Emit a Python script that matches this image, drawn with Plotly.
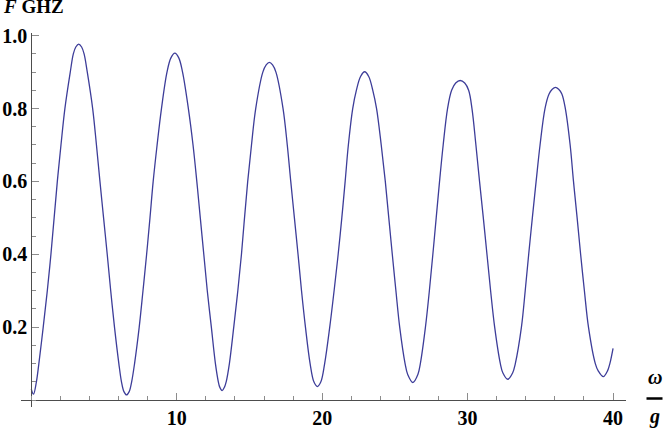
import plotly.graph_objects as go

# Data (omega/g vs F in GHZ)
omega_g = [
    0.00, 0.15, 0.35, 0.52, 0.82, 1.10, 1.35, 1.57, 1.79, 2.04, 2.31, 2.68, 2.89, 3.06, 3.26,
    3.46, 3.63, 3.85, 4.22, 4.48, 4.72, 4.97, 5.22, 5.46, 5.72, 6.02, 6.20, 6.37, 6.55,
    6.73, 6.90, 7.10, 7.42, 7.68, 7.93, 8.16, 8.38, 8.65, 8.95, 9.33, 9.60, 9.87,
    10.14, 10.40, 10.80, 11.12, 11.38, 11.62, 11.86, 12.10, 12.38, 12.66, 12.86, 12.95, 13.12,
    13.29, 13.40, 13.62, 13.92, 14.20, 14.45, 14.66, 14.88, 15.14, 15.43, 15.92, 16.15, 16.37,
    16.59, 16.82, 17.31, 17.60, 17.84, 18.09, 18.34, 18.58, 18.85, 19.17, 19.43, 19.67,
    19.91, 20.17, 20.52, 20.82, 21.10, 21.35, 21.58, 21.80, 22.10, 22.35, 22.64, 22.92,
    23.20, 23.48, 23.74, 24.06, 24.34, 24.58, 24.82, 25.07, 25.33, 25.70, 25.88, 26.24,
    26.58, 26.75, 27.10, 27.37, 27.61, 27.84, 28.07, 28.32, 28.62, 28.90, 29.18, 29.49,
    29.80, 30.07, 30.30, 30.57, 30.82, 31.08, 31.33, 31.58, 31.86, 32.25, 32.42, 32.76,
    33.10, 33.28, 33.70, 33.96, 34.20, 34.45, 34.71, 34.98, 35.32, 35.60, 35.82, 36.04,
    36.26, 36.48, 36.72, 37.05, 37.28, 37.53, 37.77, 38.03, 38.31, 38.78, 38.98, 39.33,
    39.62, 39.78, 40.00,
]
F_ghz = [
    0.030, 0.016, 0.050, 0.100, 0.200, 0.300, 0.400, 0.500, 0.600, 0.700, 0.800, 0.900, 0.950, 0.969, 0.977,
    0.969, 0.950, 0.900, 0.800, 0.700, 0.600, 0.500, 0.400, 0.300, 0.200, 0.100, 0.050, 0.023, 0.014,
    0.023, 0.050, 0.100, 0.200, 0.300, 0.400, 0.500, 0.600, 0.700, 0.800, 0.900, 0.939, 0.952,
    0.939, 0.900, 0.800, 0.700, 0.600, 0.500, 0.400, 0.300, 0.200, 0.100, 0.050, 0.036, 0.026,
    0.036, 0.050, 0.100, 0.200, 0.300, 0.400, 0.500, 0.600, 0.700, 0.800, 0.900, 0.920, 0.927,
    0.920, 0.900, 0.800, 0.700, 0.600, 0.500, 0.400, 0.300, 0.200, 0.100, 0.050, 0.037,
    0.050, 0.100, 0.200, 0.300, 0.400, 0.500, 0.600, 0.700, 0.800, 0.850, 0.888, 0.901,
    0.888, 0.850, 0.800, 0.700, 0.600, 0.500, 0.400, 0.300, 0.200, 0.100, 0.070, 0.048,
    0.070, 0.100, 0.200, 0.300, 0.400, 0.500, 0.600, 0.700, 0.800, 0.850, 0.870, 0.877,
    0.870, 0.850, 0.800, 0.700, 0.600, 0.500, 0.400, 0.300, 0.200, 0.100, 0.075, 0.057,
    0.075, 0.100, 0.200, 0.300, 0.400, 0.500, 0.600, 0.700, 0.800, 0.840, 0.853, 0.858,
    0.853, 0.840, 0.800, 0.700, 0.600, 0.500, 0.400, 0.300, 0.200, 0.100, 0.080, 0.064,
    0.080, 0.100, 0.142,
]

x_tickvals = [10, 20, 30, 40]
x_ticktext = ["10", "20", "30", "40"]
y_tickvals = [0.2, 0.4, 0.6, 0.8, 1.0]
y_ticktext = ["0.2", "0.4", "0.6", "0.8", "1.0"]

W, H = 664, 433
L, R, T, B = 21, 38, 33, 26
PW, PH = W - L - R, H - T - B
X_RANGE = [-0.708, 40.89]
Y_RANGE = [-0.0192, 1.0074]

def px(xpix):
    return (xpix - L) / PW

def py(ypix):
    return (H - B - ypix) / PH

FONT = "Liberation Serif, Times New Roman, serif"
AXIS_COL = "#4d4d4d"
TICK_COL = "#8c8c8c"

fig = go.Figure()
fig.add_trace(go.Scatter(
    x=omega_g, y=F_ghz, mode="lines",
    line=dict(color="#3d3d99", width=1.3, shape="spline", smoothing=1.0, simplify=False),
    hoverinfo="skip", showlegend=False,
))

fig.update_layout(
    width=W, height=H,
    margin=dict(l=L, r=R, t=T, b=B, autoexpand=False),
    paper_bgcolor="white", plot_bgcolor="white",
    font=dict(family=FONT, size=20, color="black", weight="bold"),
    xaxis=dict(
        range=X_RANGE, anchor="free",
        position=(0 - Y_RANGE[0]) / (Y_RANGE[1] - Y_RANGE[0]),
        showgrid=False, zeroline=False, showline=True, linecolor=AXIS_COL, linewidth=1,
        tickvals=x_tickvals, ticktext=x_ticktext,
        ticks="inside", ticklen=7, tickwidth=1, tickcolor=TICK_COL,
        minor=dict(dtick=2, tick0=0, ticks="inside", ticklen=4, tickwidth=1, tickcolor=TICK_COL),
        tickfont=dict(family=FONT, size=20, color="black", weight="bold"),
        automargin=False,
    ),
    yaxis=dict(
        range=Y_RANGE, anchor="free",
        position=(0 - X_RANGE[0]) / (X_RANGE[1] - X_RANGE[0]),
        showgrid=False, zeroline=False, showline=True, linecolor=AXIS_COL, linewidth=1,
        tickvals=y_tickvals, ticktext=y_ticktext,
        ticks="inside", ticklen=7, tickwidth=1, tickcolor=TICK_COL,
        minor=dict(dtick=0.05, tick0=0, ticks="inside", ticklen=4, tickwidth=1, tickcolor=TICK_COL),
        tickfont=dict(family=FONT, size=20, color="black", weight="bold"),
        automargin=False,
    ),
)

fig.add_annotation(xref="paper", yref="paper", x=px(1), y=py(7),
                   xanchor="left", yanchor="middle", showarrow=False,
                   text="<i>F</i> GHZ",
                   font=dict(family=FONT, size=19, color="black", weight="bold"))
fig.add_annotation(xref="paper", yref="paper", x=px(654.5), y=py(377),
                   xanchor="center", yanchor="middle", showarrow=False,
                   text="<i>ω</i>",
                   font=dict(family=FONT, size=20, color="black", weight="bold"))
fig.add_annotation(xref="paper", yref="paper", x=px(654.5), y=py(416),
                   xanchor="center", yanchor="middle", showarrow=False,
                   text="<i>g</i>",
                   font=dict(family=FONT, size=20, color="black", weight="bold"))
fig.add_shape(type="line", xref="paper", yref="paper",
              x0=px(646.5), x1=px(662.5), y0=py(398.5), y1=py(398.5),
              line=dict(color="black", width=2.5))

fig.write_html("out.html", config={"displayModeBar": False},
               post_script="document.body.style.margin='0px';")
